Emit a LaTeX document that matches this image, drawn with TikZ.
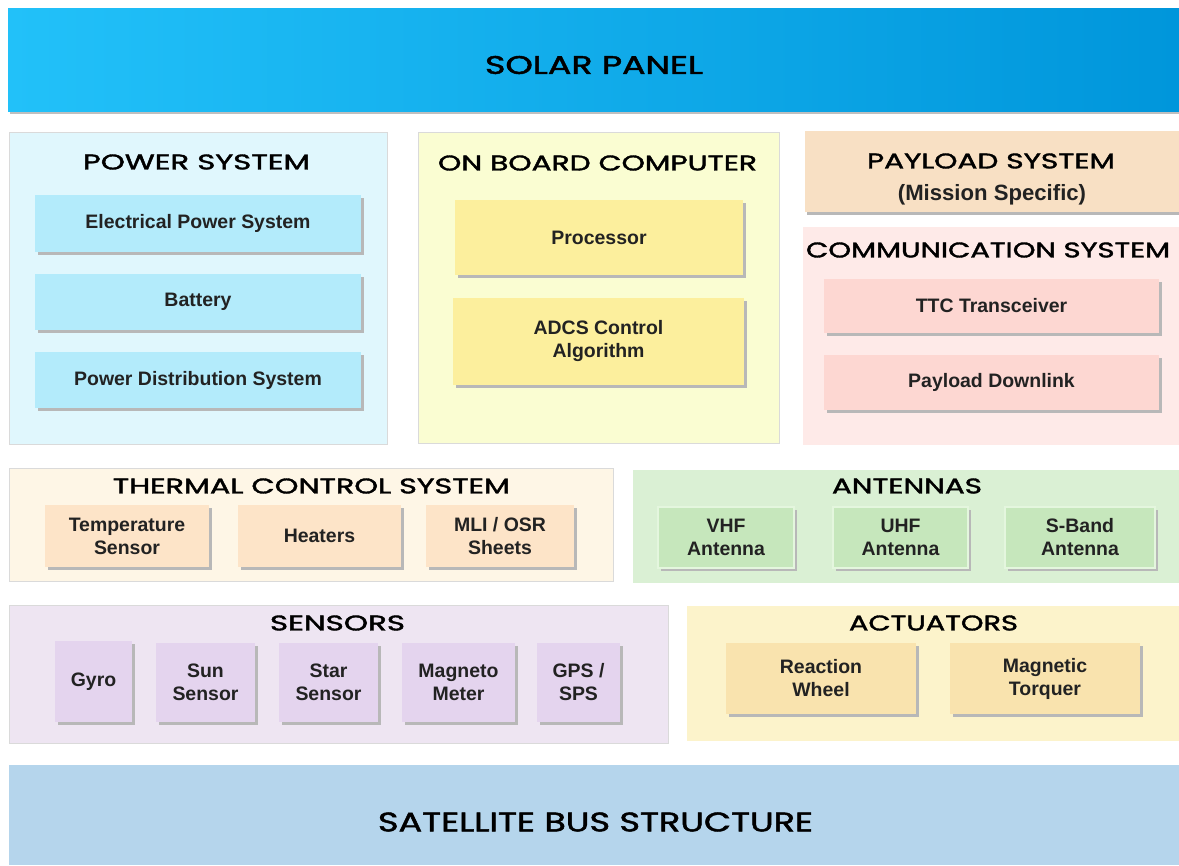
\documentclass[tikz,border=0pt]{standalone}
\usepackage{fontspec}
\setmainfont{Liberation Sans}
\newfontfamily\headfont[FakeBold=1.6]{Poppins}
\usetikzlibrary{shadows}
\definecolor{solarL}{HTML}{22C1F9}
\definecolor{solarR}{HTML}{0096DB}
\definecolor{powerbg}{HTML}{E0F7FD}
\definecolor{powerbox}{HTML}{B3EBFB}
\definecolor{obcbg}{HTML}{FAFDD2}
\definecolor{obcbox}{HTML}{FCEF9D}
\definecolor{payloadbg}{HTML}{F8E0C4}
\definecolor{commbg}{HTML}{FEEAE8}
\definecolor{commbox}{HTML}{FDD7D2}
\definecolor{thermbg}{HTML}{FEF6E6}
\definecolor{thermbox}{HTML}{FDE4C8}
\definecolor{antbg}{HTML}{DAF0D4}
\definecolor{antbox}{HTML}{C6E7BC}
\definecolor{antline}{HTML}{E4F6DE}
\definecolor{sensbg}{HTML}{EEE5F2}
\definecolor{sensbox}{HTML}{E4D4EE}
\definecolor{actbg}{HTML}{FCF3CB}
\definecolor{actbox}{HTML}{F9E3AE}
\definecolor{busbg}{HTML}{B5D5EC}
\definecolor{frame}{HTML}{DADADA}
\definecolor{txt}{HTML}{222222}
\newcommand\blk[7]{\node[#6, minimum width={(#4-#2)*0.75pt}, minimum height={(#5-#3)*0.75pt}] (#1) at ({(#2+#4)/2},{(#3+#5)/2}) {#7};}
\newcommand\hd[3]{\resizebox{#1pt}{#2pt}{\headfont #3}}
\begin{document}
\begin{tikzpicture}[x=0.75pt,y=-0.75pt,
  base/.style={inner sep=0pt, outer sep=0pt, align=center},
  panel/.style={base, draw=frame, line width=0.75pt},
  sub/.style={base, text=txt, font=\fontsize{14.6pt}{17.25pt}\selectfont\bfseries,
    drop shadow={shadow xshift=2.2pt, shadow yshift=-2.2pt, fill=black!28, opacity=1}},
  head/.style={inner sep=0pt, outer sep=0pt, text=black},
  bodytxt/.style={inner sep=0pt, outer sep=0pt, text=txt, font=\fontsize{16.6pt}{19pt}\selectfont\bfseries}]
\useasboundingbox (0,0) rectangle (1179,865);
\fill[white] (0,0) rectangle (1179,865);

% Solar panel
\blk{solar}{8}{8}{1179}{111}{base, left color=solarL, right color=solarR,
  drop shadow={shadow xshift=1.5pt, shadow yshift=-2.5pt, fill=black!25, opacity=1}}{}
\node[head] (solart) at (594,65) {\hd{163.5}{13.5}{SOLAR PANEL}};

% Power system
\blk{power}{9}{132}{387}{444}{panel, fill=powerbg}{}
\node[head] (powert) at (196.5,162) {\hd{170.25}{11.25}{POWER SYSTEM}};
\blk{pb1}{35}{195}{361}{252}{sub, fill=powerbox}{Electrical Power System}
\blk{pb2}{35}{274}{361}{330}{sub, fill=powerbox}{Battery}
\blk{pb3}{35}{352}{361}{408}{sub, fill=powerbox}{Power Distribution System}

% On board computer
\blk{obc}{418}{132}{779}{443}{panel, fill=obcbg}{}
\node[head] (obct) at (597.5,163) {\hd{239.25}{11.25}{ON BOARD COMPUTER}};
\blk{ob1}{455}{200}{743}{275}{sub, fill=obcbox}{Processor}
\blk{ob2}{453}{298}{744}{385}{sub, fill=obcbox}{ADCS Control\\Algorithm}

% Payload
\blk{payload}{805}{131}{1179}{212}{base, fill=payloadbg,
  drop shadow={shadow xshift=1.5pt, shadow yshift=-2.2pt, fill=black!28, opacity=1}}{}
\node[head] (payloadt) at (991,161) {\hd{186}{11.25}{PAYLOAD SYSTEM}};
\node[bodytxt] (payloads) at (992,195) {(Mission Specific)};

% Communication
\blk{comm}{803}{227}{1179}{445}{base, fill=commbg}{}
\node[head] (commt) at (988,250) {\hd{273}{11.25}{COMMUNICATION SYSTEM}};
\blk{cb1}{824}{279}{1159}{333}{sub, fill=commbox}{TTC Transceiver}
\blk{cb2}{824}{355}{1159}{410}{sub, fill=commbox}{Payload Downlink}

% Thermal
\blk{therm}{9}{468}{613}{581}{panel, fill=thermbg}{}
\node[head] (thermt) at (311.5,486) {\hd{297.75}{11.25}{THERMAL CONTROL SYSTEM}};
\blk{tb1}{45}{505}{209}{567}{sub, fill=thermbox}{Temperature\\Sensor}
\blk{tb2}{238}{505}{401}{567}{sub, fill=thermbox}{Heaters}
\blk{tb3}{426}{505}{574}{567}{sub, fill=thermbox}{MLI / OSR\\Sheets}

% Antennas
\blk{ant}{633}{470}{1179}{583}{base, fill=antbg}{}
\node[head] (antt) at (907,486) {\hd{112.5}{11.25}{ANTENNAS}};
\blk{ab1}{658}{507}{794}{568}{sub, fill=antbox, draw=antline, line width=1pt}{VHF\\Antenna}
\blk{ab2}{833}{507}{968}{568}{sub, fill=antbox, draw=antline, line width=1pt}{UHF\\Antenna}
\blk{ab3}{1005}{507}{1155}{568}{sub, fill=antbox, draw=antline, line width=1pt}{S-Band\\Antenna}

% Sensors
\blk{sens}{9}{605}{668}{743}{panel, fill=sensbg}{}
\node[head] (senst) at (337.5,623) {\hd{101.25}{11.25}{SENSORS}};
\blk{sb1}{55}{641}{132}{722}{sub, fill=sensbox}{Gyro}
\blk{sb2}{156}{643}{255}{722}{sub, fill=sensbox}{Sun\\Sensor}
\blk{sb3}{279}{643}{378}{722}{sub, fill=sensbox}{Star\\Sensor}
\blk{sb4}{402}{643}{515}{722}{sub, fill=sensbox}{Magneto\\Meter}
\blk{sb5}{537}{643}{620}{722}{sub, fill=sensbox}{GPS /\\SPS}

% Actuators
\blk{act}{687}{606}{1179}{741}{base, fill=actbg}{}
\node[head] (actt) at (933.5,623) {\hd{126.75}{11.25}{ACTUATORS}};
\blk{acb1}{726}{643}{916}{714}{sub, fill=actbox}{Reaction\\Wheel}
\blk{acb2}{950}{643}{1140}{714}{sub, fill=actbox}{Magnetic\\Torquer}

% Bus
\blk{bus}{9}{765}{1179}{865}{base, fill=busbg}{}
\node[head] (bust) at (595.5,822) {\hd{326.25}{14.25}{SATELLITE BUS STRUCTURE}};
\end{tikzpicture}
\end{document}
